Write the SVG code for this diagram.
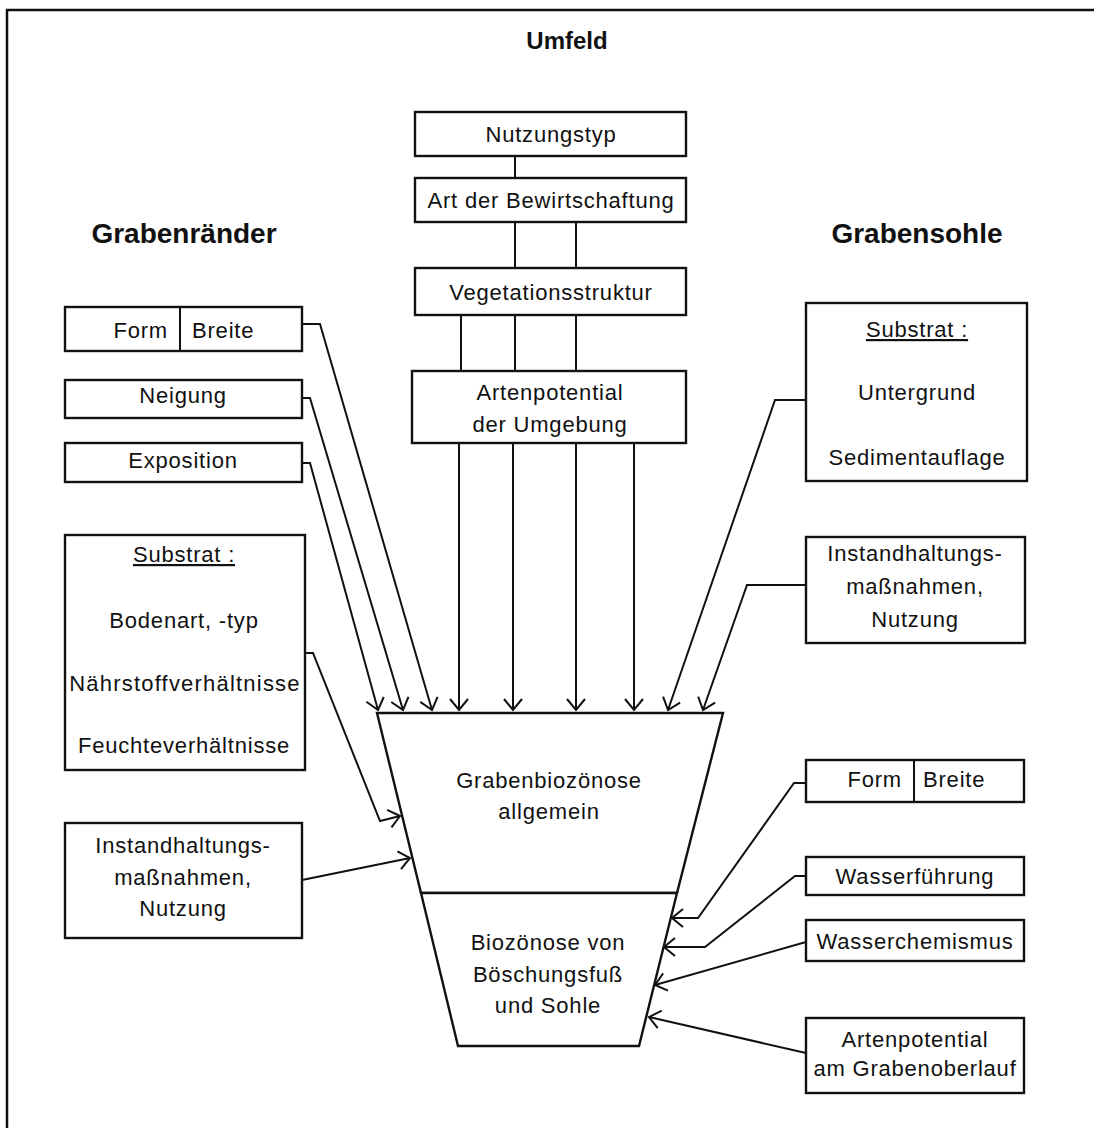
<svg xmlns="http://www.w3.org/2000/svg" width="1094" height="1128" viewBox="0 0 1094 1128">
<style>
  .box { fill: #fff; stroke: #111; stroke-width: 2.4; }
  .ln { fill: none; stroke: #111; stroke-width: 2; }
  .arr { fill: none; stroke: #111; stroke-width: 2; marker-end: url(#ah); }
  text { font-family: "Liberation Sans", Arial, sans-serif; fill: #111; }
  .t { font-size: 22px; letter-spacing: 0.8px; text-anchor: middle; }
  .te { font-size: 22px; letter-spacing: 0.8px; text-anchor: end; }
  .ts { font-size: 22px; letter-spacing: 0.8px; text-anchor: start; }
  .h { font-size: 28px; font-weight: bold; text-anchor: middle; }
</style>
<defs>
  <marker id="ah" markerUnits="userSpaceOnUse" markerWidth="24" markerHeight="24" refX="0" refY="0" orient="auto" viewBox="-12 -12 24 24" overflow="visible">
    <path d="M-11,-9 L0,0 L-11,9" fill="none" stroke="#111" stroke-width="2"/>
  </marker>
</defs>
<rect width="1094" height="1128" fill="#fff"/>
<path d="M7,1128 V10 H1094" fill="none" stroke="#111" stroke-width="2.5"/>

<text class="h" x="567" y="49" style="font-size:24px">Umfeld</text>
<text class="h" x="184" y="243">Grabenränder</text>
<text class="h" x="917" y="243">Grabensohle</text>

<g id="connectors">
  <path class="ln" d="M515,156 V178"/>
  <path class="ln" d="M515,222 V268 M576,222 V268"/>
  <path class="ln" d="M461,315 V371 M515,315 V371 M576,315 V371"/>
  <path class="arr" d="M459,443 V710"/>
  <path class="arr" d="M513,443 V710"/>
  <path class="arr" d="M576,443 V710"/>
  <path class="arr" d="M634,443 V710"/>
  <path class="arr" d="M302,324 H320 L432,710"/>
  <path class="arr" d="M302,398 H310 L403,710"/>
  <path class="arr" d="M302,463 H310 L378,710"/>
  <path class="arr" d="M305,653 H313 L380,821 L400,816"/>
  <path class="arr" d="M302,880 L410,858"/>
  <path class="arr" d="M806,400 H775 L668,710"/>
  <path class="arr" d="M806,585 H747 L703,710"/>
  <path class="arr" d="M806,783 H794 L698,918 H672"/>
  <path class="arr" d="M806,876 H795 L705,947 H664"/>
  <path class="arr" d="M806,942 L655,985"/>
  <path class="arr" d="M806,1053 L649,1017"/>
</g>

<g id="n-nutzungstyp">
  <rect class="box" x="415" y="112" width="271" height="44"/>
  <text class="t" x="551" y="142">Nutzungstyp</text>
</g>
<g id="n-bewirtschaftung">
  <rect class="box" x="415" y="178" width="271" height="44"/>
  <text class="t" x="551" y="208">Art der Bewirtschaftung</text>
</g>
<g id="n-vegetation">
  <rect class="box" x="415" y="268" width="271" height="47"/>
  <text class="t" x="551" y="300">Vegetationsstruktur</text>
</g>
<g id="n-artenpot-umgebung">
  <rect class="box" x="412" y="371" width="274" height="72"/>
  <text class="t" x="550" y="400">Artenpotential</text>
  <text class="t" x="550" y="432">der Umgebung</text>
</g>

<g id="n-form-left">
  <rect class="box" x="65" y="307" width="237" height="44"/>
  <line class="ln" x1="180" y1="307" x2="180" y2="351"/>
  <text class="te" x="168" y="338">Form</text>
  <text class="ts" x="192" y="338">Breite</text>
</g>
<g id="n-neigung">
  <rect class="box" x="65" y="380" width="237" height="38"/>
  <text class="t" x="183" y="403">Neigung</text>
</g>
<g id="n-exposition">
  <rect class="box" x="65" y="443" width="237" height="39"/>
  <text class="t" x="183" y="468">Exposition</text>
</g>
<g id="n-substrat-left">
  <rect class="box" x="65" y="535" width="240" height="235"/>
  <text class="t" x="184" y="562" text-decoration="underline">Substrat :</text>
  <text class="t" x="184" y="628">Bodenart, -typ</text>
  <text class="t" x="185" y="691" style="letter-spacing:1.2px">Nährstoffverhältnisse</text>
  <text class="t" x="184" y="753">Feuchteverhältnisse</text>
</g>
<g id="n-instand-left">
  <rect class="box" x="65" y="823" width="237" height="115"/>
  <text class="t" x="183" y="853">Instandhaltungs-</text>
  <text class="t" x="183" y="885">maßnahmen,</text>
  <text class="t" x="183" y="916">Nutzung</text>
</g>

<g id="n-substrat-right">
  <rect class="box" x="806" y="303" width="221" height="178"/>
  <text class="t" x="917" y="337" text-decoration="underline">Substrat :</text>
  <text class="t" x="917" y="400">Untergrund</text>
  <text class="t" x="917" y="465">Sedimentauflage</text>
</g>
<g id="n-instand-right">
  <rect class="box" x="806" y="537" width="219" height="106"/>
  <text class="t" x="915" y="561">Instandhaltungs-</text>
  <text class="t" x="915" y="594">maßnahmen,</text>
  <text class="t" x="915" y="627">Nutzung</text>
</g>

<g id="n-grabenbiozoenose">
  <polygon class="box" points="377,713 723,713 677,893 421,893"/>
  <text class="t" x="549" y="788">Grabenbiozönose</text>
  <text class="t" x="549" y="819">allgemein</text>
</g>
<g id="n-boeschungsfuss">
  <polygon class="box" points="421,893 677,893 639,1046 458,1046"/>
  <text class="t" x="548" y="950">Biozönose von</text>
  <text class="t" x="548" y="982">Böschungsfuß</text>
  <text class="t" x="548" y="1013">und Sohle</text>
</g>

<g id="n-form-right">
  <rect class="box" x="806" y="760" width="218" height="42"/>
  <line class="ln" x1="914" y1="760" x2="914" y2="802"/>
  <text class="te" x="902" y="787">Form</text>
  <text class="ts" x="923" y="787">Breite</text>
</g>
<g id="n-wasserfuehrung">
  <rect class="box" x="806" y="857" width="218" height="38"/>
  <text class="t" x="915" y="884">Wasserführung</text>
</g>
<g id="n-wasserchemismus">
  <rect class="box" x="806" y="920" width="218" height="41"/>
  <text class="t" x="915" y="949">Wasserchemismus</text>
</g>
<g id="n-artenpot-oberlauf">
  <rect class="box" x="806" y="1018" width="218" height="75"/>
  <text class="t" x="915" y="1047">Artenpotential</text>
  <text class="t" x="915" y="1076">am Grabenoberlauf</text>
</g>
</svg>
